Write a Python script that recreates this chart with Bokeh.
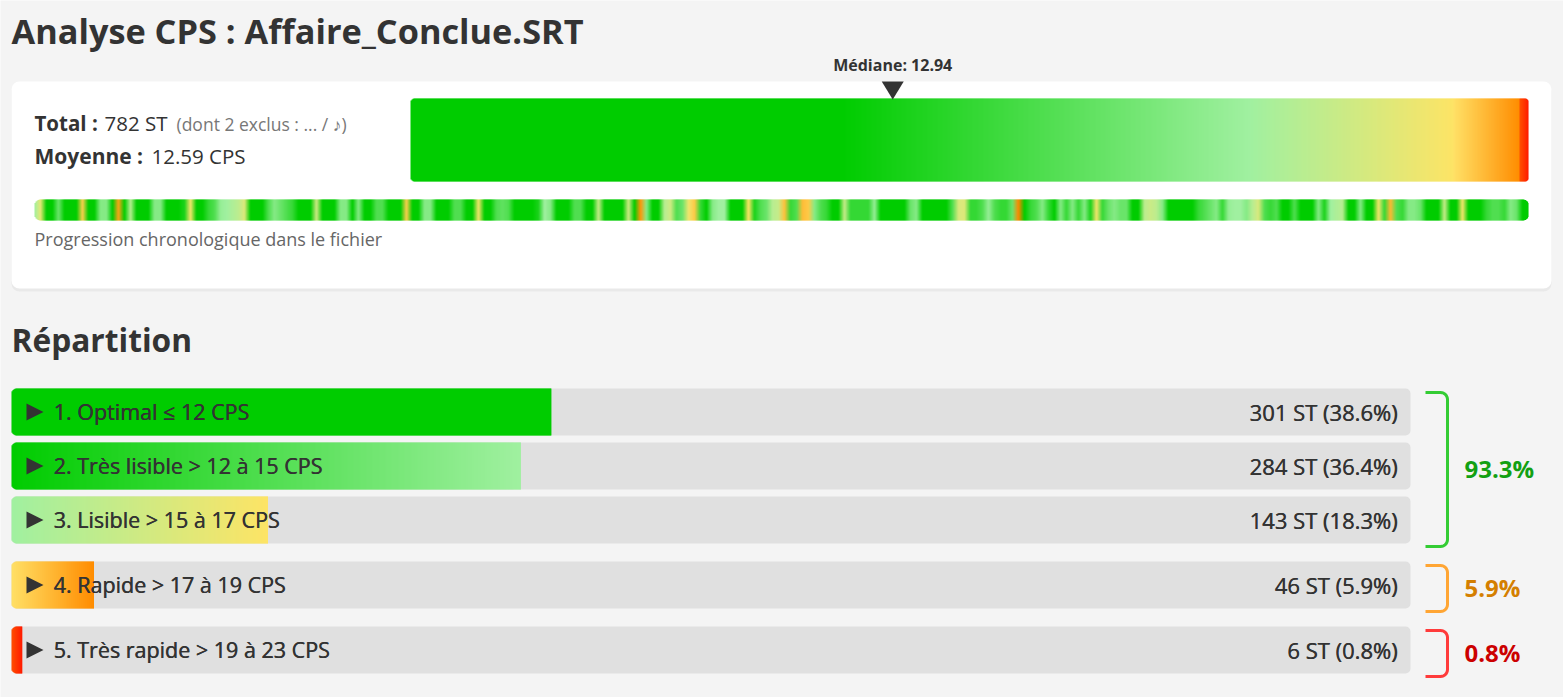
import numpy as np
from bokeh.plotting import figure
from bokeh.models import Range1d, ColumnDataSource
from bokeh.core.properties import value
from bokeh.embed import file_html
from bokeh.resources import INLINE

# ---------------- data ----------------
TITLE = "Analyse CPS : Affaire_Conclue.SRT"
TOTAL_ST = 782
EXCLUDED_ST = 2
MEAN_CPS = 12.59
MEDIAN_CPS = 12.94
SCALE_MAX_CPS = 30

CATEGORIES = [
    "1. Optimal ≤ 12 CPS",
    "2. Très lisible > 12 à 15 CPS",
    "3. Lisible > 15 à 17 CPS",
    "4. Rapide > 17 à 19 CPS",
    "5. Très rapide > 19 à 23 CPS",
]
COUNTS = [301, 284, 143, 46, 6]
GROUPS = [[0, 1, 2], [3], [4]]

# CPS read along the chronological strip (equally spaced samples)
CHRONO_CPS = [
    15, 16.5, 10, 10, 14, 10, 10, 10, 17.5, 10,
    10, 14.5, 14.5, 10, 18.5, 10, 15.5, 10, 10, 10,
    14.5, 14.5, 10, 10, 10, 12.5, 16.8, 10, 10, 13,
    13.5, 14.8, 15, 15.3, 15.6, 16.3, 10, 10, 10, 13.5,
    14.5, 14, 13.5, 13, 10, 10, 10, 16, 10, 10,
    10, 14.5, 14.5, 10, 14.5, 10, 10, 13.5, 13.5, 10,
    10, 10, 17.5, 10, 10, 14.5, 14.5, 10, 10, 10,
    13.5, 13.5, 10, 10, 16.8, 10, 10, 13.5, 13.8, 13.5,
    10, 10, 10, 10, 12.5, 15, 14.5, 10, 10, 10,
    13.5, 13.5, 10, 10, 15.8, 10, 10, 10, 10, 16,
    10, 18.8, 14.5, 10, 10, 15.5, 16, 13.5, 14, 16.7,
    17.6, 13, 10, 14.5, 15, 15, 10, 10, 10, 17,
    12.5, 13.5, 14, 15.5, 15.8, 17.8, 13, 13.5, 17.9, 17.6,
    14.5, 13.5, 13, 10, 10, 15.8, 13, 13, 13, 13,
    14.8, 10, 10, 10, 10, 10, 14, 14.5, 10, 10,
    10, 10, 10, 13.5, 16.2, 16.3, 13, 13, 13.5, 14.8,
    13.5, 13, 13, 14, 19.2, 10, 13, 13.5, 14.5, 13,
    10, 14.5, 13, 14.5, 13, 14.5, 12.5, 16.8, 13, 14,
    14.5, 14, 14, 10, 10, 15.6, 15.9, 15.6, 14.5, 10,
    10, 10, 10, 10, 13, 13.5, 14, 14.5, 13, 14.8,
    15, 15, 14.5, 15.5, 16.2, 13.5, 13, 13.5, 10, 10,
    13.5, 10, 10, 10, 14.5, 12.5, 15, 15.3, 15.5, 10,
    10, 14.5, 10, 10, 16.8, 13, 18, 13.5, 13, 14.5,
    14.5, 14, 10, 10, 10, 15.8, 10, 10, 16.8, 10,
    10, 10, 13, 13.5, 13.5, 13, 14.5, 14, 10, 10,
]

# ---------------- styles ----------------
FONT = value("Open Sans")
TXT = "#333333"
BG = "#f4f4f4"
CAT_START = ["#00cc00", "#00cc00", "#a0f0a0", "#ffe066", "#ff5000"]
CAT_END = ["#00cc00", "#a0f0a0", "#fde466", "#ff8c00", "#ff1a00"]
CPS_STOPS = [(12, "#00cc00"), (15, "#a0f0a0"), (17, "#fde466"), (19, "#ff8c00"), (23, "#ff0000")]
BRACKET_COL = ["#33cc33", "#ffa533", "#ff3b3b"]
GROUP_TXT_COL = ["#12a012", "#d47f00", "#cc0000"]
BASE_K = 0.42  # svg alphabetic-baseline correction (fraction of font size)


def rgb(h):
    h = h.lstrip("#")
    return np.array([int(h[i:i + 2], 16) for i in (0, 2, 4)], dtype=float)


def to_hex(c):
    c = np.clip(np.round(c), 0, 255).astype(int)
    return "#%02x%02x%02x" % tuple(c)


def mix(a, b, t):
    return rgb(a) * (1 - t) + rgb(b) * t


def cps_color(v):
    if v <= CPS_STOPS[0][0]:
        return rgb(CPS_STOPS[0][1])
    for (v0, c0), (v1, c1) in zip(CPS_STOPS[:-1], CPS_STOPS[1:]):
        if v <= v1:
            return mix(c0, c1, (v - v0) / (v1 - v0))
    return rgb(CPS_STOPS[-1][1])


W, H = 1563, 697
p = figure(width=W, height=H, x_range=Range1d(0, W), y_range=Range1d(H, 0),
           output_backend="svg", toolbar_location=None, min_border=0,
           x_axis_location=None, y_axis_location=None)
p.grid.visible = False
p.outline_line_color = None
p.background_fill_color = BG
p.border_fill_color = BG


def label(x, y, s, size, bold=False, color=TXT, align="left", heavy=False):
    offs = [0, 0.4] if heavy else [0]
    for dx in offs:
        p.text(x=[x + dx], y=[y - BASE_K * size], text=[s], text_font=FONT,
               text_font_size="%gpx" % size, text_font_style="bold" if bold else "normal",
               text_color=color, text_align=align, text_baseline="alphabetic")


def gradient(x0, x1, y0, y1, color_at, r_left=0, r_right=0):
    """color_at(t) -> rgb array, t in [0,1]; draws 1px slices with rounded ends."""
    L, R, T, B, C = [], [], [], [], []
    n = int(np.ceil(x1 - x0))
    for i in range(n):
        xa = x0 + i
        xb = min(x0 + i + 1.6, x1)
        xc = x0 + i + 0.5
        t = (xc - x0) / (x1 - x0)
        inset = 0.0
        if r_left and xc - x0 < r_left:
            d = r_left - (xc - x0)
            inset = r_left - np.sqrt(max(r_left ** 2 - d ** 2, 0))
        if r_right and x1 - xc < r_right:
            d = r_right - (x1 - xc)
            inset = max(inset, r_right - np.sqrt(max(r_right ** 2 - d ** 2, 0)))
        L.append(xa); R.append(xb); T.append(y0 + inset); B.append(y1 - inset)
        C.append(to_hex(color_at(t)))
    src = ColumnDataSource(dict(left=L, right=R, top=T, bottom=B, color=C))
    p.quad(left="left", right="right", top="top", bottom="bottom", fill_color="color",
           line_color=None, source=src)


total_valid = sum(COUNTS)
pcts = [c / total_valid * 100 for c in COUNTS]
cum = np.concatenate([[0], np.cumsum(pcts) / 100])

# ---------------- title ----------------
label(11, 44, TITLE, 34.3, bold=True)

# ---------------- card ----------------
p.quad(left=[11], right=[1551], top=[82], bottom=[291], fill_color="#e9e9e9",
       line_color=None, border_radius=8)
p.quad(left=[11], right=[1551], top=[81], bottom=[288], fill_color="white",
       line_color=None, border_radius=8)

# sorted distribution gradient
GX0, GX1, GY0, GY1 = 410, 1528, 98, 181


def dist_color(t):
    for k in range(len(COUNTS)):
        if t <= cum[k + 1] or k == len(COUNTS) - 1:
            lt = (t - cum[k]) / max(cum[k + 1] - cum[k], 1e-9)
            return mix(CAT_START[k], CAT_END[k], min(max(lt, 0), 1))


gradient(GX0, GX1, GY0, GY1, dist_color, 4, 4)

# median marker
mx = GX0 + (GX1 - GX0) * MEDIAN_CPS / SCALE_MAX_CPS
p.patch(x=[mx - 11, mx + 11, mx], y=[81, 81, 99], fill_color=TXT, line_color=None)
label(mx, 71, "Médiane: %.2f" % MEDIAN_CPS, 16, bold=True, align="center")

# stats text
label(34, 131, "Total :", 20.5, bold=True)
label(104, 131, "%d ST" % TOTAL_ST, 20.5)
label(176, 131, "(dont %d exclus : ... / ♪)" % EXCLUDED_ST, 17.5, color="#777777")
label(34, 164, "Moyenne :", 21, bold=True)
label(151, 164, "%.2f CPS" % MEAN_CPS, 20.5)

# chronological strip
SX0, SX1, SY0, SY1 = 34, 1528, 199, 220
chrono_cols = [cps_color(v) for v in CHRONO_CPS]


def chrono_color(t):
    f = t * (len(chrono_cols) - 1)
    i = int(np.floor(f))
    if i >= len(chrono_cols) - 1:
        return chrono_cols[-1]
    return chrono_cols[i] * (1 - (f - i)) + chrono_cols[i + 1] * (f - i)


gradient(SX0, SX1, SY0, SY1, chrono_color, 6, 6)
label(34, 246, "Progression chronologique dans le fichier", 18, color="#666666")

# ---------------- Répartition ----------------
label(11, 352, "Répartition", 31.7, bold=True)

TX0, TX1 = 11, 1410
ROW_H, ROW_GAP, GROUP_GAP = 47, 7, 18
y = 388
for g, members in enumerate(GROUPS):
    g_top = y
    for k in members:
        yt, yb = y, y + ROW_H
        yc = (yt + yb) / 2
        p.quad(left=[TX0], right=[TX1], top=[yt], bottom=[yb], fill_color="#e0e0e0",
               line_color=None, border_radius=5)
        fx1 = TX0 + (TX1 - TX0) * pcts[k] / 100
        gradient(TX0, fx1, yt, yb,
                 lambda t, k=k: mix(CAT_START[k], CAT_END[k], t), 5, 0)
        p.patch(x=[26, 26, 43], y=[yc - 8.5, yc + 8.5, yc], fill_color=TXT, line_color=None)
        label(53, yc + 9, CATEGORIES[k], 21.5, heavy=True)
        label(1397, yc + 9, "%d ST (%.1f%%)" % (COUNTS[k], pcts[k]), 22, align="right",
              heavy=True)
        y = yb + ROW_GAP
    g_bot = y - ROW_GAP
    # bracket
    bt, bb = g_top + 4, g_bot + 3
    x0, x1, r = 1425, 1447, 7
    xs, ys = [x0], [bt]
    for a in np.linspace(-np.pi / 2, 0, 8):
        xs.append(x1 - r + r * np.cos(a)); ys.append(bt + r + r * np.sin(a))
    for a in np.linspace(0, np.pi / 2, 8):
        xs.append(x1 - r + r * np.cos(a)); ys.append(bb - r + r * np.sin(a))
    xs.append(x0); ys.append(bb)
    p.line(xs, ys, line_width=3, line_color=BRACKET_COL[g], line_join="round")
    gp = sum(pcts[k] for k in members)
    label(1464, (bt + bb) / 2 + 9.5, "%.1f%%" % gp, 24, bold=True, color=GROUP_TXT_COL[g])
    y = g_bot + GROUP_GAP

open("out.html", "w").write(file_html(p, INLINE))
